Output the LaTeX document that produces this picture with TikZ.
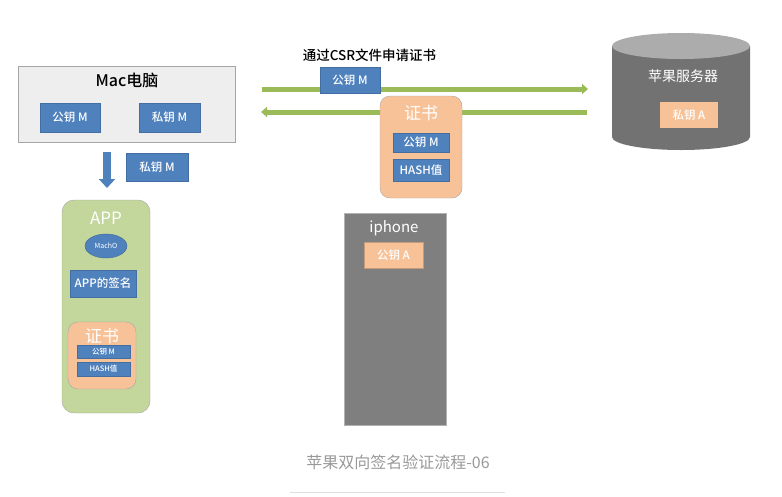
\documentclass[tikz,border=0pt]{standalone}
\usepackage{fontspec}
\setmainfont{Noto Sans CJK SC}[BoldFont={Noto Sans CJK SC Medium}]
\usetikzlibrary{positioning,arrows.meta,shapes.geometric}
\definecolor{lan}{HTML}{4F81BD}
\definecolor{lv}{HTML}{9BBB59}
\definecolor{cheng}{HTML}{F8C298}
\definecolor{qinglv}{HTML}{C3D69B}
\definecolor{hui}{HTML}{7F7F7F}
\definecolor{qianhui}{HTML}{EEEEEE}

\begin{document}
\begin{tikzpicture}[x=1pt, y=-1pt, font=\small,
  keybox/.style={fill=lan, draw=lan!85!black, text=white, inner sep=1pt, font=\fontsize{11.5}{12}\selectfont\bfseries},
  certbox/.style={fill=cheng, draw=gray!70, rounded corners=10pt},
  bigtxt/.style={text=white, font=\fontsize{16}{17}\selectfont},
  greenarrow/.style={line width=5pt, color=lv, -{Triangle[length=6pt, width=10pt]}}]
  \useasboundingbox (0,0) rectangle (782,496);
  % Mac
  \node[fill=qianhui, draw=gray!70, minimum width=217pt, minimum height=76pt] (mac) at (126.5,104) {};
  \node[font=\fontsize{16}{17}\selectfont\bfseries] (mactitle) at (127,80) {Mac电脑};
  \node[keybox, minimum width=60pt, minimum height=29pt] (pubm) at (70,117.5) {公钥 M};
  \node[keybox, minimum width=61pt, minimum height=29pt] (privm) at (169.5,117.5) {私钥 M};
  \coordinate (downtop) at (107,152);
  \coordinate (downend) at (107,188);
  \draw[line width=8pt, color=lan, -{Triangle[length=9pt, width=16pt]}] (downtop) -- (downend);
  \node[keybox, minimum width=62pt, minimum height=28pt] (privm2) at (157,167) {私钥 M};
  % APP
  \node[fill=qinglv, draw=gray!70, rounded corners=12pt, minimum width=88pt, minimum height=213pt] (app) at (106,306.5) {};
  \node[bigtxt, font=\fontsize{17}{18}\selectfont] (apptitle) at (106,218) {APP};
  \node[ellipse, fill=lan, draw=lan!80!black, minimum width=42pt, minimum height=24pt, inner sep=0pt, text=white, font=\fontsize{7}{8}\selectfont] (macho) at (106,246) {MachO};
  \node[keybox, minimum width=66pt, minimum height=27pt] (sign) at (103,283.5) {APP的签名};
  \node[certbox, minimum width=68pt, minimum height=67pt] (appcert) at (102,355.5) {};
  \node[text=white, font=\fontsize{17}{18}\selectfont] (appcerttitle) at (102,336) {证书};
  \node[keybox, minimum width=53pt, minimum height=13pt, font=\fontsize{7.5}{8}\selectfont\bfseries] (apppub) at (103.5,351.5) {公钥 M};
  \node[keybox, minimum width=53pt, minimum height=14pt, font=\fontsize{7.5}{8}\selectfont\bfseries] (apphash) at (103.5,369) {HASH值};
  % CSR arrows
  \coordinate (upl) at (262,89);
  \coordinate (upr) at (588,89);
  \coordinate (lowl) at (261,112);
  \coordinate (lowr) at (587,112);
  \draw[greenarrow] (upl) -- (upr);
  \draw[greenarrow] (lowr) -- (lowl);
  \node[font=\fontsize{13.5}{15}\selectfont\bfseries] (csr) at (369.5,55) {通过CSR文件申请证书};
  \node[keybox, minimum width=60pt, minimum height=26pt] (csrpub) at (350,80) {公钥 M};
  \node[certbox, minimum width=82pt, minimum height=102pt] (cert) at (421,147) {};
  \node[text=white, font=\fontsize{17}{18}\selectfont] (certtitle) at (421,113) {证书};
  \node[keybox, minimum width=56pt, minimum height=19pt] (certpub) at (421,142.5) {公钥 M};
  \node[keybox, minimum width=56pt, minimum height=22pt] (certhash) at (421,170) {HASH值};
  % Apple server
  \fill[hui!90!black] (612,46) -- (612,137) arc[start angle=180, end angle=0, x radius=69, y radius=13] -- (750,46) -- cycle;
  \fill[gray!65] (681,46) ellipse[x radius=69, y radius=13];
  \node[text=white, font=\fontsize{14}{15}\selectfont] (server) at (683,76) {苹果服务器};
  \node[fill=cheng, text=white, minimum width=58pt, minimum height=26pt, inner sep=1pt, font=\fontsize{11.5}{12}\selectfont\bfseries] (priva) at (689,115) {私钥 A};
  % iphone
  \node[fill=hui, draw=gray!60, minimum width=102pt, minimum height=212pt] (iphone) at (395,319) {};
  \node[bigtxt, font=\fontsize{15}{16}\selectfont] (iphonetitle) at (394,228) {iphone};
  \node[fill=cheng, draw=cheng!80!black, text=white, minimum width=59pt, minimum height=26pt, inner sep=1pt, font=\fontsize{11.5}{12}\selectfont\bfseries] (puba) at (393.5,255) {公钥 A};
  % caption
  \node[text=gray!80, font=\fontsize{16}{17}\selectfont] (caption) at (398,462) {苹果双向签名验证流程-06};
  \draw[gray!25] (290,492) -- (505,492);
\end{tikzpicture}
\end{document}
